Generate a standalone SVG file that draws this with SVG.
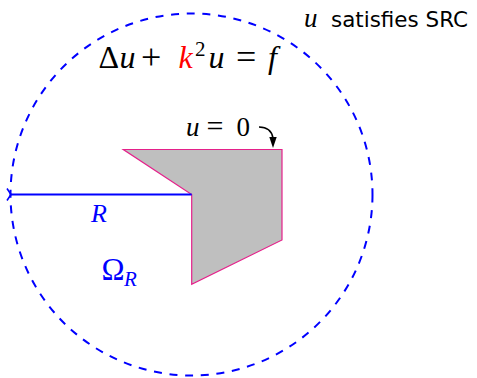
<svg xmlns="http://www.w3.org/2000/svg" width="477" height="378" viewBox="0 0 477 378">
<defs>
<marker id="chev" viewBox="0 0 10 14" refX="1" refY="7" markerWidth="10" markerHeight="14" markerUnits="userSpaceOnUse" orient="auto">
<path d="M5,1 L1,7 L5,13" fill="none" stroke="#0000ff" stroke-width="1.6"/>
</marker>
</defs>
<rect width="477" height="378" fill="#fff"/>
<g id="domain">
<circle cx="191.5" cy="194.5" r="181" fill="none" stroke="#0000ff" stroke-width="2" stroke-dasharray="8 7.7"/>
</g>
<g id="obstacle">
<polygon points="123.3,149.5 282,149.5 282,240 191.7,284.3 191.7,194.5" fill="#bfbfbf" stroke="#e5208a" stroke-width="1.2"/>
</g>
<g id="connectors">
<line x1="191.7" y1="194.5" x2="11" y2="194.5" stroke="#0000ff" stroke-width="2" marker-end="url(#chev)"/>
<path d="M259,127 Q271,127 273,138" fill="none" stroke="#000" stroke-width="1.6"/>
<polygon points="273,148 269.3,137 276.7,137" fill="#000"/>
</g>
<g id="label-src">
<text font-family="Liberation Serif" font-style="italic" x="304" y="27" font-size="27">u</text>
<text font-family="DejaVu Sans" x="331" y="27" font-size="20.5" textLength="137" lengthAdjust="spacingAndGlyphs">satisfies SRC</text>
</g>
<g id="label-eq">
<text font-family="Liberation Serif" font-size="32" x="98.5" y="68">Δ</text>
<text font-family="Liberation Serif" font-size="32" font-style="italic" x="119.5" y="68">u</text>
<text font-family="Liberation Serif" font-size="36" x="141" y="69">+</text>
<text font-family="Liberation Serif" font-size="32" font-style="italic" x="178.5" y="68" fill="#ff0000">k</text>
<text font-family="Liberation Serif" font-size="21" x="195" y="56">2</text>
<text font-family="Liberation Serif" font-size="32" font-style="italic" x="208.5" y="68">u</text>
<text font-family="Liberation Serif" font-size="36" x="236" y="69">=</text>
<text font-family="Liberation Serif" font-size="32" font-style="italic" x="268" y="68">f</text>
</g>
<g id="label-bc">
<text font-family="Liberation Serif" font-size="27" font-style="italic" x="186" y="135.5">u</text>
<text font-family="Liberation Serif" font-size="30" x="206.5" y="136">=</text>
<text font-family="Liberation Serif" font-size="27" x="236.5" y="135.5">0</text>
</g>
<g id="label-R">
<text font-family="Liberation Serif" fill="#0000ff" font-style="italic" x="91" y="222" font-size="26">R</text>
</g>
<g id="label-omega">
<text font-family="Liberation Serif" fill="#0000ff" x="101.5" y="280" font-size="31">Ω</text>
<text font-family="Liberation Serif" fill="#0000ff" font-style="italic" x="124" y="285.5" font-size="21">R</text>
</g>
</svg>
